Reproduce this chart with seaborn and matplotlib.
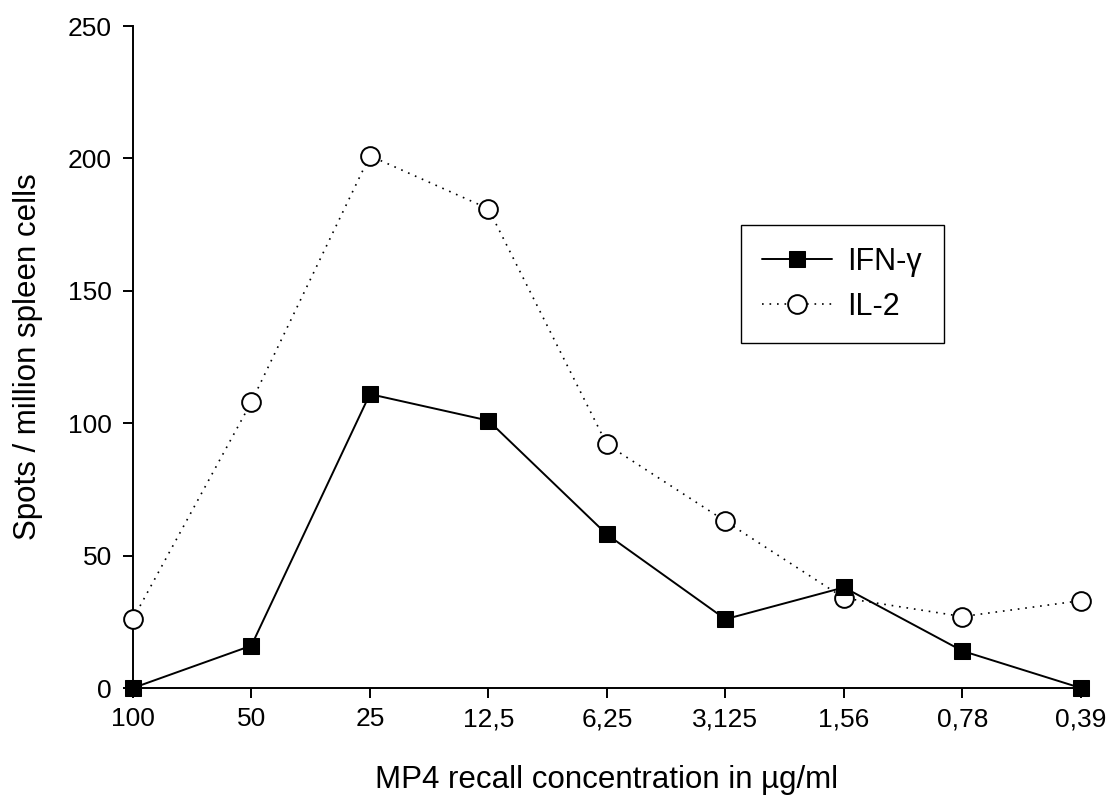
import matplotlib
matplotlib.use("Agg")
import matplotlib.pyplot as plt
import seaborn as sns
import pandas as pd

categories = ["100", "50", "25", "12,5", "6,25", "3,125", "1,56", "0,78", "0,39"]
ifn_gamma = [0, 16, 111, 101, 58, 26, 38, 14, 0]
il2 = [26, 108, 201, 181, 92, 63, 34, 27, 33]
y_ticks = [0, 50, 100, 150, 200, 250]

sns.set_theme(style="ticks")
plt.rcParams['font.family'] = ['Liberation Sans', 'DejaVu Sans']
plt.rcParams['text.color'] = 'black'
plt.rcParams['axes.labelcolor'] = 'black'

fig = plt.figure(figsize=(11.07, 7.98), dpi=100)
ax = fig.add_axes([0.120, 0.1378, 0.8565, 0.8296])

pos = list(range(len(categories)))
df_ifn = pd.DataFrame({"x": pos, "y": ifn_gamma})
df_il2 = pd.DataFrame({"x": pos, "y": il2})

sns.lineplot(data=df_il2, x="x", y="y", ax=ax, color="black", linestyle=(0, (1, 3.5)),
             linewidth=1.2, marker="o", markersize=13.5, markerfacecolor="white",
             markeredgecolor="black", markeredgewidth=1.4, label="IL-2", clip_on=False, zorder=3)
sns.lineplot(data=df_ifn, x="x", y="y", ax=ax, color="black", linestyle="-",
             linewidth=1.4, marker="s", markersize=12, markerfacecolor="black",
             markeredgecolor="black", label="IFN-γ", clip_on=False, zorder=4)

ax.set_xlim(0, len(categories) - 1)
ax.set_ylim(0, 250)
ax.set_xticks(pos)
ax.set_xticklabels(categories)
ax.set_yticks(y_ticks)
ax.set_yticklabels([str(t) for t in y_ticks])

for s in ["top", "right"]:
    ax.spines[s].set_visible(False)
for s in ["left", "bottom"]:
    ax.spines[s].set_linewidth(1.4)
    ax.spines[s].set_color("black")
ax.tick_params(axis="both", direction="out", length=7, width=1.4, labelsize=19,
               colors="black", labelcolor="black")
ax.tick_params(axis="y", pad=8)
ax.tick_params(axis="x", pad=7)

ax.set_xlabel("MP4 recall concentration in µg/ml", fontsize=22.5, labelpad=24)
ax.set_ylabel("Spots / million spleen cells", fontsize=22.5, labelpad=18)

handles, labels = ax.get_legend_handles_labels()
order = [labels.index("IFN-γ"), labels.index("IL-2")]
leg = ax.legend([handles[i] for i in order], [labels[i] for i in order],
                loc="upper left", bbox_to_anchor=(0.641, 0.699), fontsize=22,
                frameon=True, fancybox=False, edgecolor="black", handlelength=2.3,
                borderpad=0.7, labelspacing=0.5, handletextpad=0.5, borderaxespad=0,
                framealpha=1)
leg.get_frame().set_linewidth(1.0)

fig.savefig("out.png", dpi=100)
